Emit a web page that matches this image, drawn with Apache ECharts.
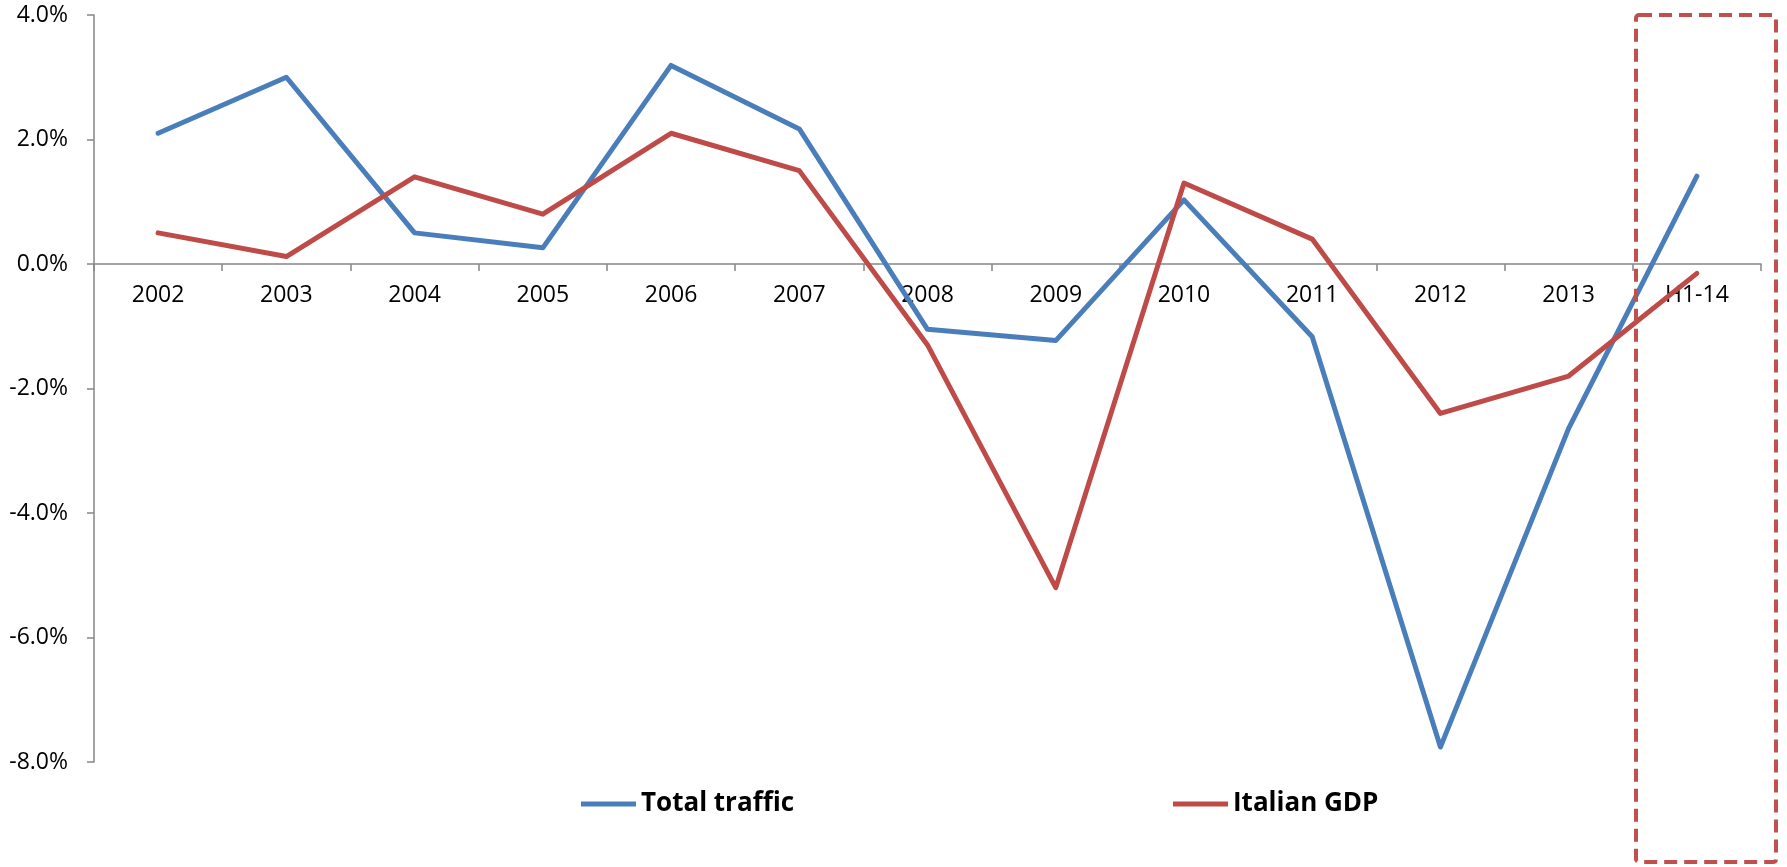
<!DOCTYPE html>
<html>
<head>
<meta charset="utf-8">
<script src="https://cdn.jsdelivr.net/npm/echarts@6/dist/echarts.min.js"></script>
<style>
html,body{margin:0;padding:0;background:#fff;}
#chart{width:1787px;height:867px;}
</style>
</head>
<body>
<div id="chart"></div>
<script>
const categories = ['2002','2003','2004','2005','2006','2007','2008','2009','2010','2011','2012','2013','H1-14'];
const totalTraffic = [2.10, 3.00, 0.50, 0.26, 3.19, 2.17, -1.05, -1.23, 1.03, -1.17, -7.76, -2.64, 1.41];
const italianGDP = [0.50, 0.12, 1.40, 0.80, 2.10, 1.50, -1.30, -5.20, 1.30, 0.40, -2.40, -1.80, -0.15];
const yTicks = {min: -8, max: 4, interval: 2};

const gridTop = 15, gridBottom = 105, H = 867;
const plotH = H - gridTop - gridBottom;
// distance from bottom of the plot up to the zero line
const zeroOffset = plotH * (0 - yTicks.min) / (yTicks.max - yTicks.min);

const chart = echarts.init(document.getElementById('chart'));
const axisColor = '#868686';
const font = '"Open Sans", "Liberation Sans", sans-serif';
chart.setOption({
  animation: false,
  backgroundColor: '#fff',
  grid: {left: 94, right: 26, top: gridTop, bottom: gridBottom, containLabel: false},
  xAxis: {
    type: 'category',
    data: categories,
    boundaryGap: true,
    position: 'bottom',
    offset: -zeroOffset,
    axisLine: {onZero: false, lineStyle: {color: axisColor, width: 1.5}},
    axisTick: {show: true, length: 7, alignWithLabel: false, lineStyle: {color: axisColor, width: 1.5}},
    axisLabel: {color: '#000', fontSize: 23, fontFamily: font, margin: 20},
    splitLine: {show: false}
  },
  yAxis: {
    type: 'value',
    min: yTicks.min, max: yTicks.max, interval: yTicks.interval,
    axisLine: {show: true, lineStyle: {color: axisColor, width: 1.5}},
    axisTick: {show: true, length: 7, lineStyle: {color: axisColor, width: 1.5}},
    axisLabel: {color: '#000', fontSize: 23, fontFamily: font, margin: 26,
      formatter: v => v.toFixed(1) + '%'},
    splitLine: {show: false}
  },
  legend: [
    {data: ['Total traffic'], left: 576, top: 786, icon: 'rect', itemWidth: 55, itemHeight: 5, itemGap: 10,
      textStyle: {fontSize: 26, fontWeight: 'bold', fontFamily: font, color: '#000'}},
    {data: ['Italian GDP'], left: 1168, top: 786, icon: 'rect', itemWidth: 55, itemHeight: 5, itemGap: 10,
      textStyle: {fontSize: 26, fontWeight: 'bold', fontFamily: font, color: '#000'}}
  ],
  series: [
    {name: 'Total traffic', type: 'line', data: totalTraffic, symbol: 'none',
      lineStyle: {color: '#4A7EBB', width: 5, cap: 'round', join: 'round'}, itemStyle: {color: '#4A7EBB'}},
    {name: 'Italian GDP', type: 'line', data: italianGDP, symbol: 'none',
      lineStyle: {color: '#BE4B48', width: 5, cap: 'round', join: 'round'}, itemStyle: {color: '#BE4B48'}}
  ],
  graphic: [
    {type: 'rect', shape: {x: 1636, y: 15, width: 140, height: 847, r: 3}, z: 100,
      style: {fill: 'none', stroke: '#C0504D', lineWidth: 4, lineDash: [13, 7]}}
  ]
});
</script>
</body>
</html>
